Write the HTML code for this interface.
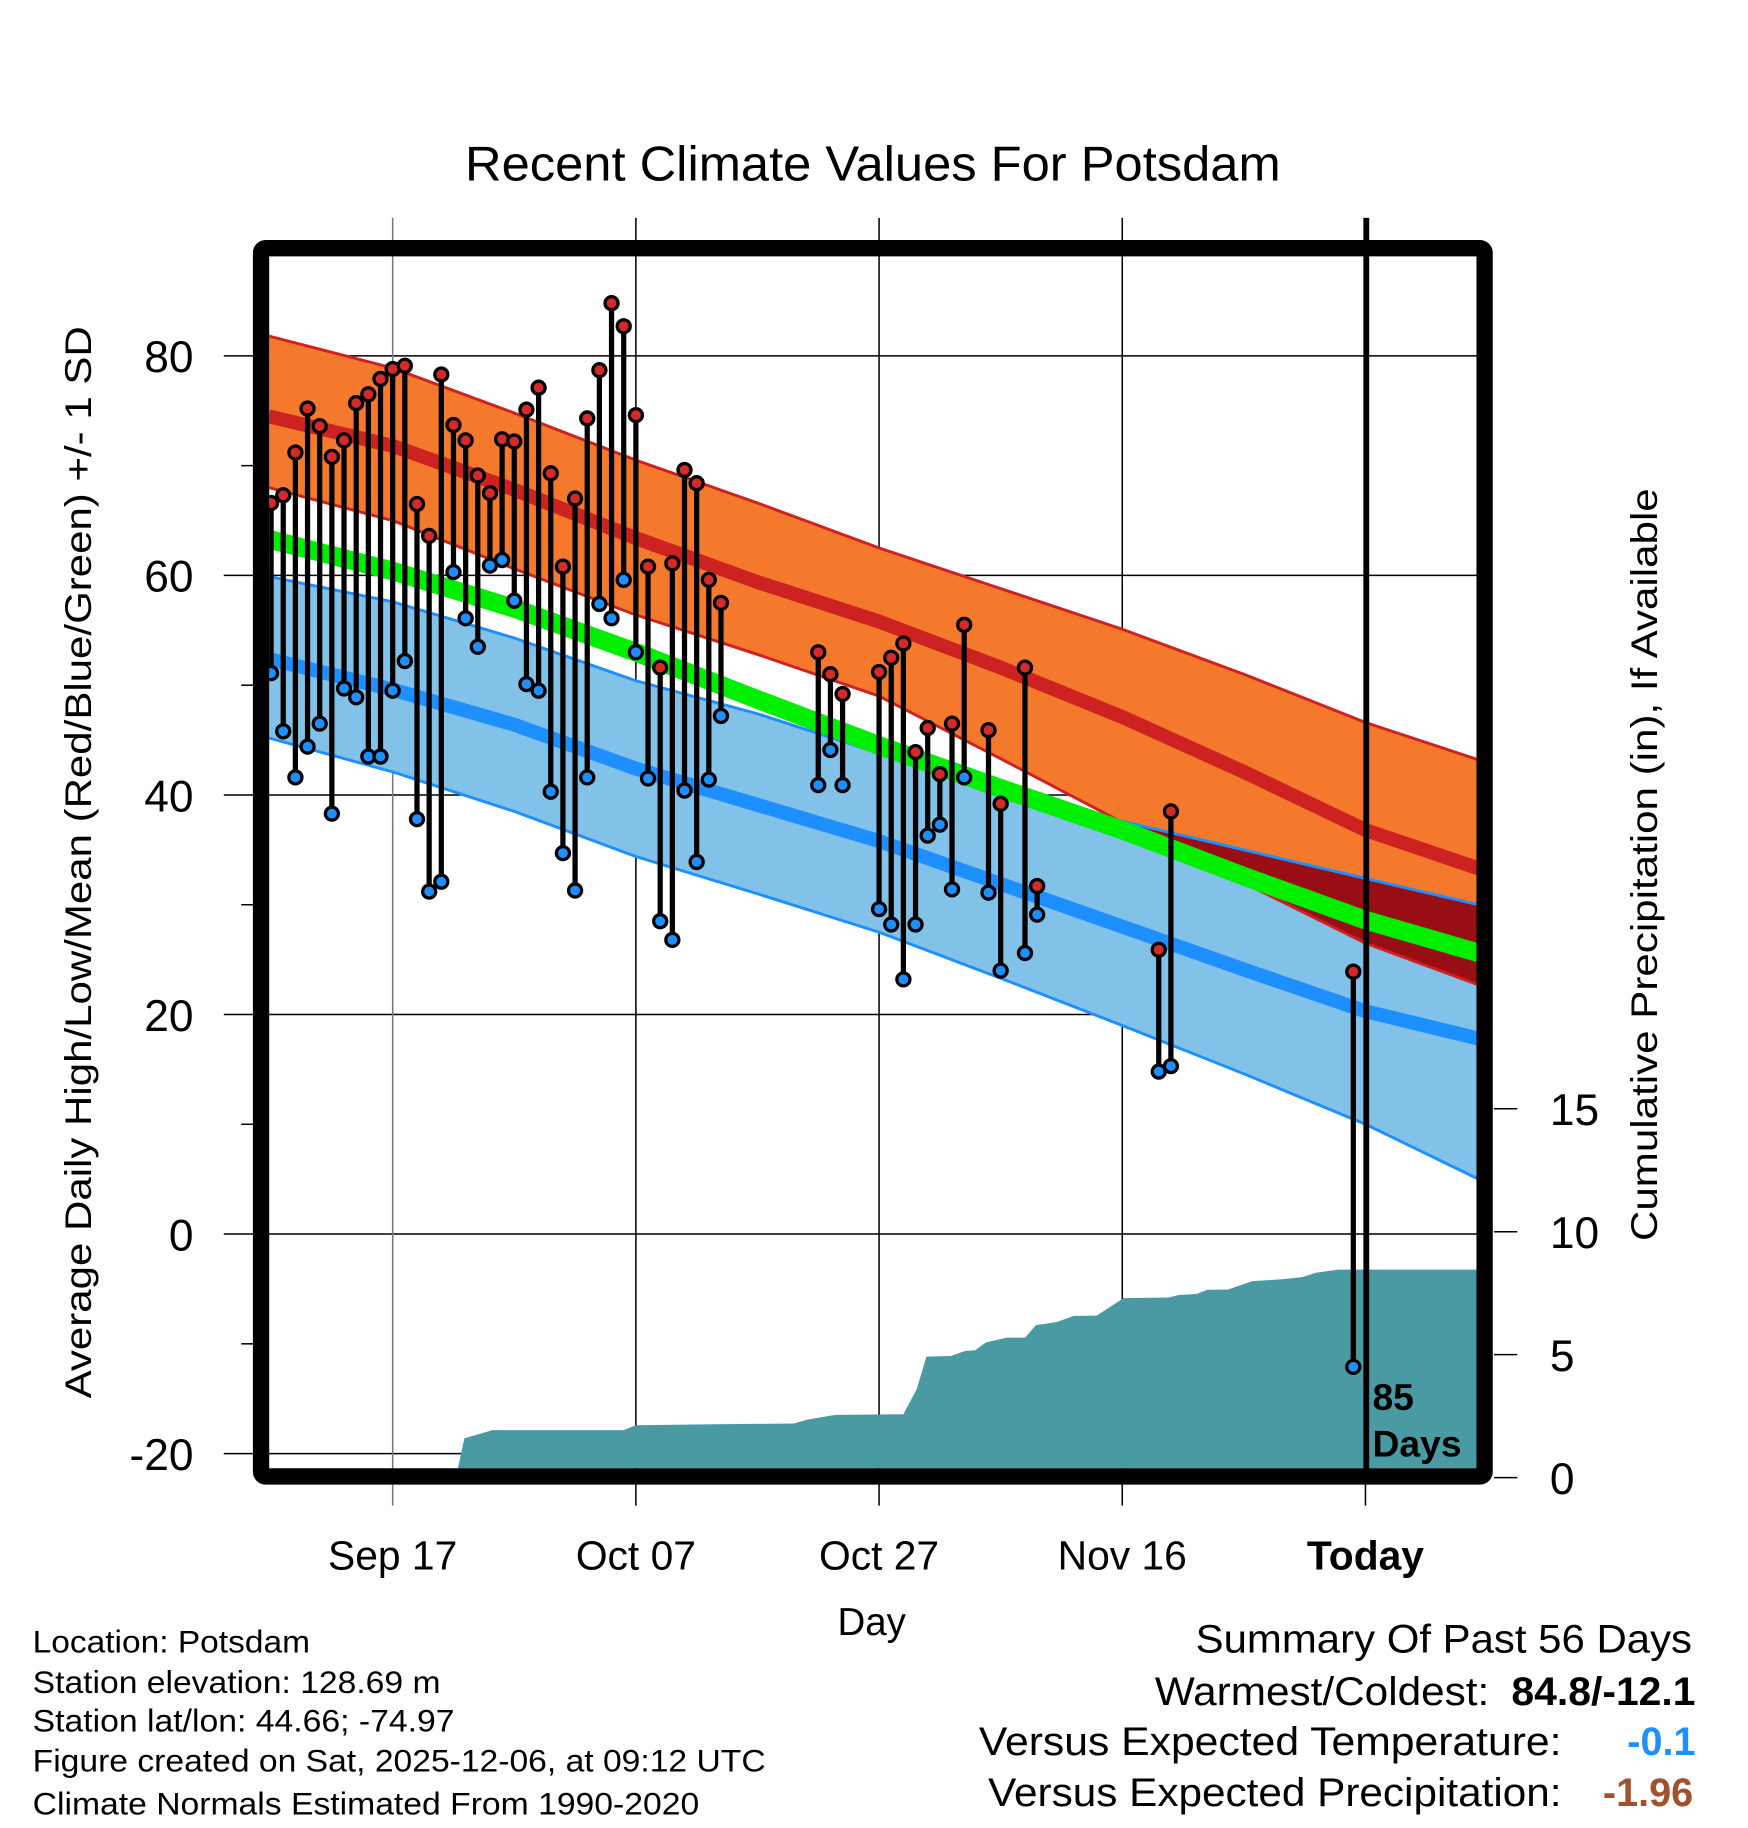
<!DOCTYPE html>
<html><head><meta charset="utf-8"><title>Recent Climate Values For Potsdam</title>
<style>html,body{margin:0;padding:0;background:#fff}svg{display:block}text{font-family:"Liberation Sans",Arial,sans-serif}</style></head>
<body>
<svg id="chart" xmlns="http://www.w3.org/2000/svg" width="1748" height="1828" viewBox="0 0 1500 1568.7">
<rect width="1500" height="1568.7" fill="#fff"/>
<text x="749" y="155" font-size="42" text-anchor="middle" textLength="700" lengthAdjust="spacingAndGlyphs">Recent Climate Values For Potsdam</text>
<g id="plot"></g>
<text transform="translate(78,740) rotate(-90)" font-size="32" text-anchor="middle" textLength="920" lengthAdjust="spacingAndGlyphs">Average Daily High/Low/Mean (Red/Blue/Green) +/- 1 SD</text>
<text transform="translate(1422,742) rotate(-90)" font-size="32" text-anchor="middle" textLength="646" lengthAdjust="spacingAndGlyphs">Cumulative Precipitation (in), If Available</text>
<text x="748" y="1403" font-size="33" text-anchor="middle">Day</text>
<g font-size="27">
<text x="28" y="1418" textLength="238" lengthAdjust="spacingAndGlyphs">Location: Potsdam</text>
<text x="28" y="1453" textLength="350" lengthAdjust="spacingAndGlyphs">Station elevation: 128.69 m</text>
<text x="28" y="1486" textLength="362" lengthAdjust="spacingAndGlyphs">Station lat/lon: 44.66; -74.97</text>
<text x="28" y="1520" textLength="629" lengthAdjust="spacingAndGlyphs">Figure created on Sat, 2025-12-06, at 09:12 UTC</text>
<text x="28" y="1557" textLength="572" lengthAdjust="spacingAndGlyphs">Climate Normals Estimated From 1990-2020</text>
</g>
<g font-size="34">
<text x="1452" y="1418" text-anchor="end" textLength="426" lengthAdjust="spacingAndGlyphs">Summary Of Past 56 Days</text>
<text x="1278" y="1463" text-anchor="end" textLength="287" lengthAdjust="spacingAndGlyphs">Warmest/Coldest:</text>
<text x="1455" y="1463" text-anchor="end" font-weight="bold" textLength="158" lengthAdjust="spacingAndGlyphs">84.8/-12.1</text>
<text x="1340" y="1506" text-anchor="end" textLength="500" lengthAdjust="spacingAndGlyphs">Versus Expected Temperature:</text>
<text x="1455" y="1506" text-anchor="end" font-weight="bold" fill="#1e8fff">-0.1</text>
<text x="1340" y="1550" text-anchor="end" textLength="492" lengthAdjust="spacingAndGlyphs">Versus Expected Precipitation:</text>
<text x="1453" y="1550" text-anchor="end" font-weight="bold" fill="#a0522d">-1.96</text>
</g>
</svg>
<script>
// ---- data ----
const obsDays = [0,1,2,3,4,5,6,7,8,9,10,11,12,13,14,15,16,17,18,19,20,21,22,23,24,25,26,27,28,29,30,31,32,33,34,35,36,37,45,46,47,50,51,52,53,54,55,56,57,59,60,62,63,73,74,89];
const obsHigh = [66.6,67.3,71.2,75.2,73.6,70.8,72.3,75.7,76.5,77.9,78.8,79.1,66.5,63.6,78.3,73.7,72.3,69.1,67.5,72.4,72.2,75.1,77.1,69.3,60.8,67.0,74.3,78.7,84.8,82.7,74.6,60.8,51.6,61.1,69.6,68.4,59.6,57.5,53.0,51.0,49.2,51.2,52.5,53.8,43.9,46.1,41.9,46.5,55.5,45.9,39.2,51.6,31.7,25.9,38.5,23.9];
const obsLow = [51.1,45.8,41.6,44.4,46.5,38.3,49.7,48.9,43.5,43.5,49.5,52.2,37.8,31.2,32.1,60.3,56.1,53.5,60.9,61.4,57.7,50.1,49.5,40.3,34.7,31.3,41.6,57.4,56.1,59.6,53.0,41.5,28.5,26.8,40.4,33.9,41.4,47.2,40.9,44.1,40.9,29.6,28.2,23.2,28.2,36.3,37.3,31.4,41.6,31.1,24.0,25.6,29.1,14.8,15.3,-12.1];
const normDays = [-0.2,10,20,30,40,50,60,70,80,90,99.3];
const hiUpper = [81.8,78.9,74.8,70.5,66.6,62.5,58.8,55.1,51.0,46.6,43.2];
const hiMean  = [74.5,71.8,67.8,63.4,59.4,55.8,51.6,47.1,42.1,36.8,33.3];
const hiLower = [68.0,65.0,60.6,56.4,52.8,49.0,43.3,37.5,32.0,26.5,22.7];
const loUpper = [59.9,57.6,54.3,50.4,47.4,43.8,40.5,37.6,35.0,32.4,30.0];
const loMean  = [52.4,49.6,46.4,42.4,39.1,35.8,31.9,28.0,24.1,20.3,17.8];
const loLower = [45.2,42.1,38.5,34.4,31.0,27.5,23.3,19.0,14.6,10.0,5.0];
const avgMean = [63.3,60.4,57.0,53.0,48.7,44.5,40.6,36.8,32.6,28.6,25.6];
const precipDays = [15.2,15.9,17.3,18.2,29.0,30.0,36.6,43.0,44.1,46.4,52.0,53.1,53.9,55.9,57.1,57.9,58.8,60.5,62.0,62.9,64.6,66.0,67.9,70.1,73.8,74.7,76.1,77.0,78.7,80.7,83.0,84.8,85.9,87.8,99.3];
const precipCum = [0,1.6,1.8,1.93,1.93,2.13,2.17,2.2,2.36,2.55,2.58,3.6,4.92,4.95,5.15,5.18,5.5,5.69,5.69,6.2,6.32,6.58,6.59,7.3,7.32,7.43,7.47,7.64,7.65,7.99,8.06,8.15,8.33,8.46,8.46];
const tempTicks = [80,60,40,20,0,-20];
const tempTickLabels = ["80","60","40","20","0","-20"];
const minorTicks = [70,50,30,10,-10];
const dateTickDays = [10,30,50,70,90];
const dateTickLabels = ["Sep 17","Oct 07","Oct 27","Nov 16","Today"];
const precipTicks = [0,5,10,15];
const precipTickLabels = ["0","5","10","15"];
const todayDay = 90;
const daysLabel = "85";

// ---- scales ----
const X0=231, X1=1268, Y0=220, Y1=1260;
const xd = d => 232.6 + d*10.435;
const yt = v => 1059 - 9.42*v;
const yp = p => 1268 - 21.1*p;
const NS='http://www.w3.org/2000/svg';
const plot=document.getElementById('plot');
function mk(tag, attrs, parent){const e=document.createElementNS(NS,tag);for(const k in attrs)e.setAttribute(k,attrs[k]);(parent||plot).appendChild(e);return e;}
function line(vals){return normDays.map((d,i)=>[xd(d),yt(vals[i])]);}
function band(top,bot){const a=line(top),b=line(bot).reverse();return 'M'+a.concat(b).map(p=>p[0].toFixed(1)+','+p[1].toFixed(1)).join('L')+'Z';}
function pl(vals){return line(vals).map(p=>p[0].toFixed(1)+','+p[1].toFixed(1)).join(' ');}

const defs=mk('defs',{});
const cp=mk('clipPath',{id:'pc'},defs);
mk('rect',{x:X0,y:Y0,width:X1-X0,height:Y1-Y0},cp);

tempTicks.forEach((v,i)=>{
  const g=mk('line',{x1:192,x2:X1,y1:yt(v),y2:yt(v),stroke:'#000','stroke-width':1.3});
  
  
  const t=mk('text',{x:166,y:yt(v)+14,'font-size':38,'text-anchor':'end'});
  t.textContent=tempTickLabels[i];
  
  
});
minorTicks.forEach(v=>{
  const m=mk('line',{x1:207,x2:218,y1:yt(v),y2:yt(v),stroke:'#000','stroke-width':1.3});
  
  
});
dateTickDays.forEach((d,i)=>{
  const g=mk('line',{x1:xd(d),x2:xd(d),y1:187,y2:1292,stroke:i==0?'#777':'#000','stroke-width':1.3});
  
  
  const t=mk('text',{x:xd(d),y:1347,'font-size':35,'text-anchor':'middle'});
  if(i==dateTickDays.length-1)t.setAttribute('font-weight','bold');
  t.textContent=dateTickLabels[i];
  
  
});
precipTicks.forEach((p,i)=>{
  const k=mk('line',{x1:1282,x2:1302,y1:yp(p),y2:yp(p),stroke:'#000','stroke-width':1.3});
  
  
  const t=mk('text',{x:1330,y:yp(p)+14,'font-size':38});
  t.textContent=precipTickLabels[i];
  
  
});

const g=mk('g',{'clip-path':'url(#pc)'});


const ob=mk('path',{d:band(hiUpper,hiLower),fill:'#f5792c'},g);


const bb=mk('path',{d:band(loUpper,loLower),fill:'#82c1e8'},g);


const ovBot=loUpper.map((v,i)=>Math.min(hiLower[i],v));
const ov=mk('path',{d:band(loUpper,ovBot),fill:'#980e14'},g);


[[hiUpper,'#d02020',2.5,'high-upper-line'],[hiLower,'#d02020',2.5,'high-lower-line'],[loUpper,'#1e8fff',2.5,'low-upper-line'],[loLower,'#1e8fff',2.5,'low-lower-line'],[hiMean,'#cc2222',12,'high-mean-line'],[loMean,'#1e8fff',12,'low-mean-line'],[avgMean,'#00ee00',16,'mean-line']].forEach(a=>{
  const l=mk('polyline',{points:pl(a[0]),fill:'none',stroke:a[1],'stroke-width':a[2],'stroke-linejoin':'round'},g);
  
  
});
let pd='M'+xd(precipDays[0])+','+yp(0);
precipDays.forEach((d,i)=>{pd+='L'+xd(d).toFixed(1)+','+yp(precipCum[i]).toFixed(1);});
pd+='L'+xd(precipDays[precipDays.length-1])+','+yp(0)+'Z';
const pa=mk('path',{d:pd,fill:'#4a9aa4'},g);


obsDays.forEach((d,i)=>{
  const s=mk('line',{x1:xd(d),x2:xd(d),y1:yt(obsHigh[i]),y2:yt(obsLow[i]),stroke:'#000','stroke-width':4.5},g);
  
  
});
obsDays.forEach((d,i)=>{
  const h=mk('circle',{cx:xd(d),cy:yt(obsHigh[i]),r:5.6,fill:'#d62a2a',stroke:'#000','stroke-width':2.8},g);
  
  
  const l=mk('circle',{cx:xd(d),cy:yt(obsLow[i]),r:5.6,fill:'#1e8fff',stroke:'#000','stroke-width':2.8},g);
  
  
});
const tl=mk('line',{x1:xd(todayDay)+0.7,x2:xd(todayDay)+0.7,y1:187,y2:1267,stroke:'#000','stroke-width':5});


const t1=mk('text',{x:xd(todayDay)+6,y:1210,'font-size':32,'font-weight':'bold'});
t1.textContent=daysLabel;


const t2=mk('text',{x:xd(todayDay)+6,y:1250,'font-size':32,'font-weight':'bold'});
t2.textContent='Days';


const fr=mk('rect',{x:224,y:213,width:1050,height:1054,rx:4,fill:'none',stroke:'#000','stroke-width':14});


</script>
</body></html>
